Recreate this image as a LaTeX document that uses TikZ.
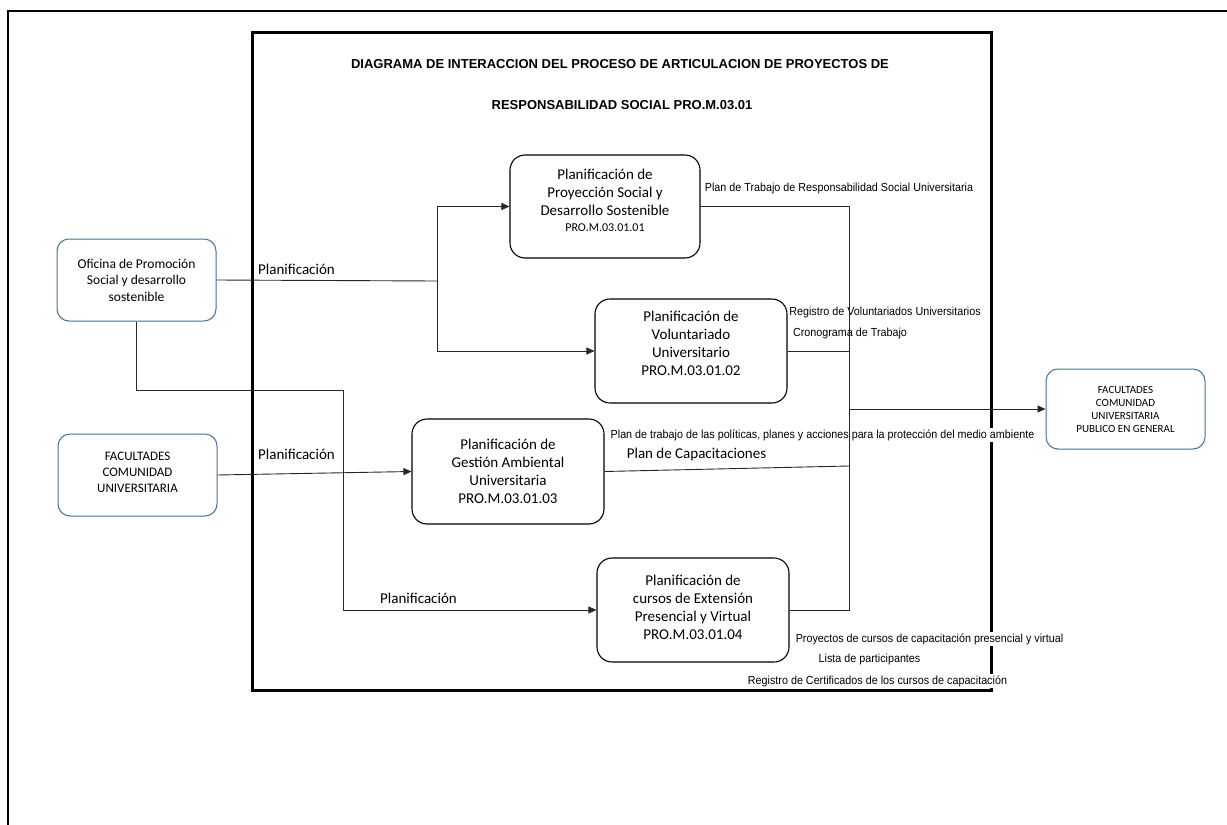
\documentclass[tikz,border=0pt]{standalone}
\usepackage{fontspec}
\setmainfont{Liberation Sans}
\newfontfamily\calfont{Carlito}
\newfontfamily\narrowfont[FakeStretch=0.92]{Liberation Sans}
\usetikzlibrary{arrows.meta}
\definecolor{boxblue}{RGB}{65,113,156}
\tikzset{
  procbox/.style={draw=black, line width=1.1pt, rounded corners=15pt, fill=white, align=center,
    font=\calfont\fontsize{15}{18}\selectfont, inner sep=0pt},
  extbox/.style={draw=boxblue, line width=1pt, rounded corners=12pt, fill=white, align=center, inner sep=0pt},
  conn/.style={draw=black!85, line width=0.9pt},
  arr/.style={conn, -{Triangle[length=8pt,width=7pt]}},
  outlab/.style={font=\narrowfont\fontsize{11.7}{13}\selectfont, fill=white, inner sep=1pt, anchor=center},
  outlabnf/.style={font=\narrowfont\fontsize{11.7}{13}\selectfont, inner sep=1pt, anchor=center},
  planlab/.style={font=\calfont\fontsize{15}{18}\selectfont, inner sep=1pt, anchor=center},
  titlelab/.style={font=\bfseries\fontsize{13}{15}\selectfont, inner sep=1pt, anchor=center}
}
\begin{document}
\begin{tikzpicture}[x=1pt,y=-1pt]
\useasboundingbox (0,0) rectangle (1227,825);
% outer frame
\draw[line width=1.5pt] (8,825) -- (8,11) -- (1227,11);
% inner frame
\draw[line width=3pt] (252,32) rectangle (991,690);
% title
\node[titlelab] (t1) at (620,64) {DIAGRAMA DE INTERACCION DEL PROCESO DE ARTICULACION DE PROYECTOS DE};
\node[titlelab] (t2) at (622,105) {RESPONSABILIDAD SOCIAL PRO.M.03.01};
% output labels
\node[outlab] (l1) at (839,188) {Plan de Trabajo de Responsabilidad Social Universitaria};
\node[outlabnf] (l2) at (885,312) {Registro de Voluntariados Universitarios};
\node[outlabnf] (l3) at (850,333) {Cronograma de Trabajo};
\node[outlab] (l4) at (822.5,435) {Plan de trabajo de las políticas, planes y acciones para la protección del medio ambiente};
\node[planlab] (l5) at (696.5,454) {Plan de Capacitaciones};
\node[outlab] (l6) at (929.5,639) {Proyectos de cursos de capacitación presencial y virtual};
\node[outlab] (l7) at (869.5,659) {Lista de participantes};
\node[outlab] (l8) at (877.5,681) {Registro de Certificados de los cursos de capacitación};
% planificacion labels
\node[planlab] (p1) at (296.5,269) {Planificación};
\node[planlab] (p2) at (296.5,454) {Planificación};
\node[planlab] (p3) at (418.5,598) {Planificación};
% coordinates
\coordinate (j1) at (437,281);
\coordinate (j2) at (343,390);
\coordinate (bustop) at (849,206.5);
\coordinate (busbot) at (849,610);
\coordinate (j3) at (849,466);
\coordinate (j4) at (849,409);
% process boxes
\node[procbox, minimum width=190pt, minimum height=103pt] (b1) at (605,206.5)
  {Planificación de\\Proyección Social y\\Desarrollo Sostenible\\[-2pt]{\fontsize{12}{14}\selectfont PRO.M.03.01.01}\\[-6pt]};
\node[procbox, minimum width=192pt, minimum height=104pt] (b2) at (691,351)
  {Planificación de\\Voluntariado\\Universitario\\PRO.M.03.01.02\\[-2.5pt]};
\node[procbox, minimum width=192pt, minimum height=105pt] (b3) at (508,471.5)
  {Planificación de\\Gestión Ambiental\\Universitaria\\PRO.M.03.01.03};
\node[procbox, minimum width=192pt, minimum height=104pt] (b4) at (693,610)
  {Planificación de\\cursos de Extensión\\Presencial y Virtual\\PRO.M.03.01.04\\[-12pt]};
% external boxes
\node[extbox, minimum width=159pt, minimum height=82pt, font=\calfont\fontsize{13.5}{16.5}\selectfont] (ofi) at (136.5,280)
  {Oficina de Promoción\\Social y desarrollo\\sostenible};
\node[extbox, minimum width=159pt, minimum height=82pt, font=\calfont\fontsize{13}{16}\selectfont] (facl) at (137.5,475)
  {FACULTADES\\COMUNIDAD\\UNIVERSITARIA\\[-10pt]};
\node[extbox, minimum width=159pt, minimum height=80pt, font=\calfont\fontsize{11}{13}\selectfont] (facr) at (1125.5,409)
  {FACULTADES\\COMUNIDAD\\UNIVERSITARIA\\PUBLICO EN GENERAL};
% input connectors
\draw[conn] (ofi.east) -- (j1);
\draw[arr] (j1) |- (b1.west);
\draw[arr] (j1) |- (b2.west);
\draw[arr] (ofi.south) |- (j2) |- (b4.west);
\draw[arr] (facl.east) -- (b3.west);
% output connectors
\draw[conn] (b1.east) -- (bustop) -- (busbot) -- (b4.east);
\draw[conn] (b2.east) -- (b2.east -| bustop);
\draw[conn] (b3.east) -- (j3);
\draw[arr] (j4) -- (facr.west);
\end{tikzpicture}
\end{document}
